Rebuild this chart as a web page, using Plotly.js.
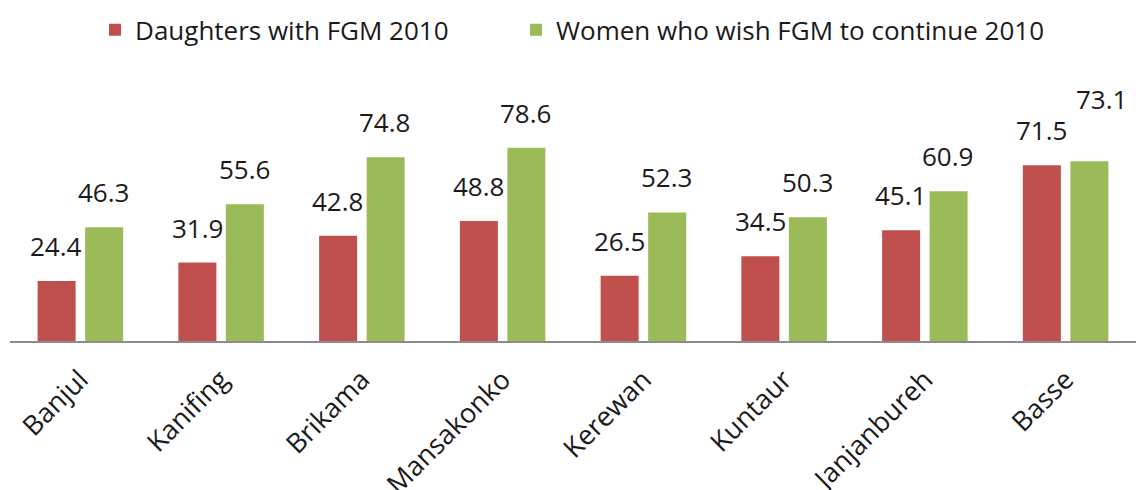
<!DOCTYPE html>
<html>
<head>
<meta charset="utf-8">
<script src="https://cdn.plot.ly/plotly-3.0.1.min.js"></script>
<style>html,body{margin:0;padding:0;background:#fff;}#chart{width:1136px;height:490px;}</style>
</head>
<body>
<div id="chart"></div>
<script>
const categories = ["Banjul", "Kanifing", "Brikama", "Mansakonko", "Kerewan", "Kuntaur", "Janjanbureh", "Basse"];
const daughtersFGM = [24.4, 31.9, 42.8, 48.8, 26.5, 34.5, 45.1, 71.5];
const womenWishContinue = [46.3, 55.6, 74.8, 78.6, 52.3, 50.3, 60.9, 73.1];
const seriesNames = ["Daughters with FGM 2010", "Women who wish FGM to continue 2010"];

const RED = "#c0504d", GREEN = "#9bbb59", TXT = "#1a1a1a";
const FONT = "Open Sans, sans-serif";

const traces = [
  {type: "bar", name: seriesNames[0], x: categories, y: daughtersFGM, marker: {color: RED}, hoverinfo: "x+y", legend: "legend"},
  {type: "bar", name: seriesNames[1], x: categories, y: womenWishContinue, marker: {color: GREEN}, hoverinfo: "x+y", legend: "legend2"}
];

const annotations = [];
categories.forEach((c, i) => {
  annotations.push({x: c, y: daughtersFGM[i], text: String(daughtersFGM[i]), showarrow: false,
    xshift: -24, yshift: 15, yanchor: "bottom", xanchor: "center", font: {family: FONT, size: 26, color: TXT}});
  const last = i === categories.length - 1;
  annotations.push({x: c, y: womenWishContinue[i], text: String(womenWishContinue[i]), showarrow: false,
    xshift: last ? 36 : 23, yshift: last ? 42 : 15, yanchor: "bottom", xanchor: "center", font: {family: FONT, size: 26, color: TXT}});
});

const legendBase = {orientation: "h", xanchor: "left", y: 1.148, yanchor: "middle",
  font: {family: FONT, size: 26, color: TXT}, itemwidth: 30, bgcolor: "rgba(0,0,0,0)"};

const layout = {
  width: 1136, height: 490,
  margin: {l: 10, r: 0, t: 70, b: 149},
  paper_bgcolor: "#ffffff", plot_bgcolor: "#ffffff",
  barmode: "group", bargap: 0.325, bargroupgap: 0.2,
  showlegend: true,
  legend: Object.assign({}, legendBase, {x: 0.0755}),
  legend2: Object.assign({}, legendBase, {x: 0.4494}),
  xaxis: {type: "category", showline: true, linecolor: "#8c8c8c", linewidth: 2, ticks: "",
    tickangle: -45, ticklabelstandoff: 10, tickfont: {family: FONT, size: 27, color: TXT}, showgrid: false, zeroline: false, fixedrange: true},
  yaxis: {range: [0, 110.25], visible: false, showgrid: false, zeroline: false, fixedrange: true},
  annotations: annotations,
  font: {family: FONT, color: TXT}
};

Plotly.newPlot("chart", traces, layout, {displayModeBar: false, staticPlot: true});
</script>
</body>
</html>
